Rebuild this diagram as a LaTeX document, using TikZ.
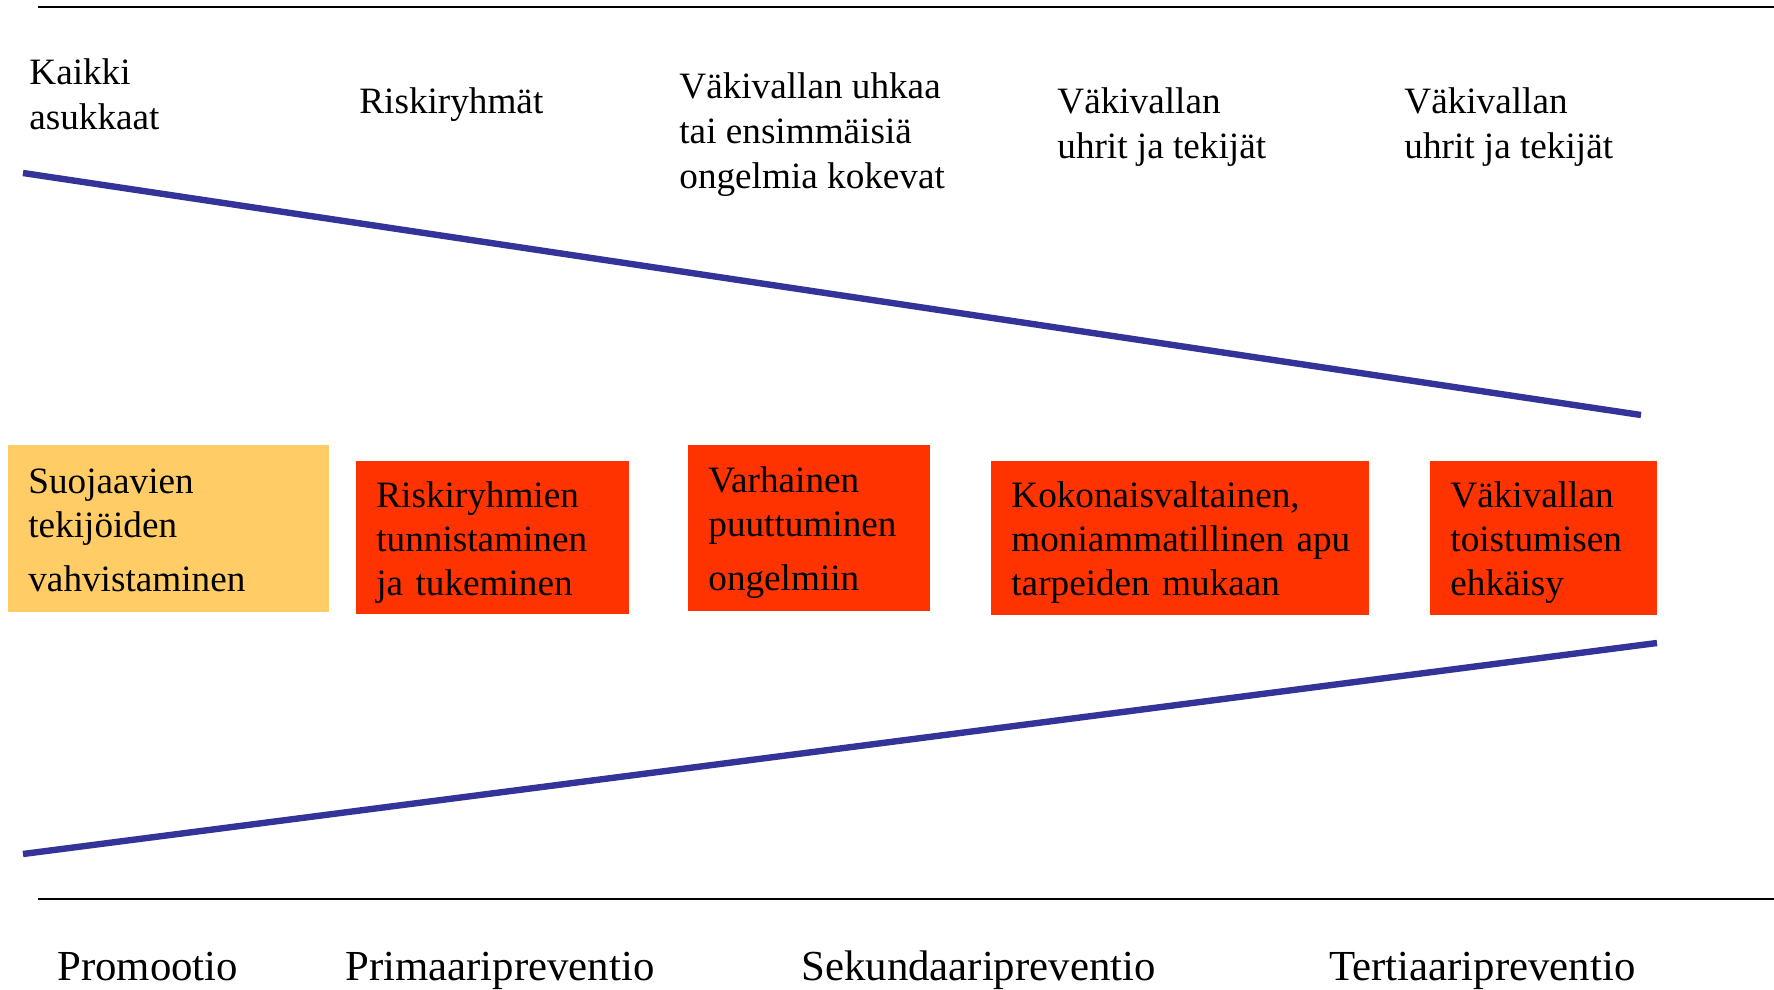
\documentclass[tikz,border=0pt]{standalone}
\usepackage{fontspec}
\setmainfont{Liberation Serif}
\usepackage{tikz}
\definecolor{funnelblue}{RGB}{51,51,153}
\definecolor{boxyellow}{RGB}{255,204,102}
\definecolor{boxred}{RGB}{255,51,0}
\tikzset{
  grouptext/.style={anchor=north west, inner sep=0pt, align=left, font=\fontsize{18.6}{22.5}\selectfont},
  levelname/.style={anchor=base west, inner sep=0pt, font=\fontsize{21.4}{25}\selectfont},
  stagebox/.style={anchor=north west, inner xsep=10pt, inner ysep=0pt, align=left,
    font=\fontsize{18.6}{22}\selectfont,
    execute at begin node={\rule{0pt}{18.5pt}},
    execute at end node={\rule[-5pt]{0pt}{5pt}}},
  funnel/.style={line width=3.2pt, funnelblue},
  ruleline/.style={line width=1.3pt, black}
}

\begin{document}
\begin{tikzpicture}[x=0.5pt, y=-0.5pt]
    \useasboundingbox (0,0) rectangle (1774,990);

    % Horizontal rules
    \draw[ruleline] (38,7) -- (1774,7);
    \draw[ruleline] (38,899) -- (1774,899);

    % Target groups
    \node[grouptext] (allresidents) at (29,58) {Kaikki\\asukkaat};
    \node[grouptext] (riskgroups) at (359,87) {Riskiryhmät};
    \node[grouptext] (threat) at (679,72) {Väkivallan uhkaa\\tai ensimmäisiä\\ongelmia kokevat};
    \node[grouptext] (victimsA) at (1057,87) {Väkivallan\\uhrit ja tekijät};
    \node[grouptext] (victimsB) at (1404,87) {Väkivallan\\uhrit ja tekijät};

    % Funnel
    \draw[funnel] (23,173) -- (1641,415);
    \draw[funnel] (23,854) -- (1657,643);

    % Measures
    \node[stagebox, fill=boxyellow, text width=140.5pt, minimum height=83.5pt] (protect) at (8,445)
        {Suojaavien\\tekijöiden\\[5pt]vahvistaminen};
    \node[stagebox, fill=boxred, text width=116.5pt, minimum height=76.5pt] (identify) at (356,461)
        {Riskiryhmien\\tunnistaminen\\ja tukeminen};
    \node[stagebox, fill=boxred, text width=101pt, minimum height=83pt] (early) at (688,445)
        {Varhainen\\puuttuminen\\[5pt]ongelmiin};
    \node[stagebox, fill=boxred, text width=169pt, minimum height=77pt] (holistic) at (991,461)
        {Kokonaisvaltainen,\\\mbox{moniammatillinen apu}\\tarpeiden mukaan};
    \node[stagebox, fill=boxred, text width=93.5pt, minimum height=77pt] (recurrence) at (1430,461)
        {Väkivallan\\toistumisen\\ehkäisy};

    % Levels of prevention
    \node[levelname] (promotion) at (57,980) {Promootio};
    \node[levelname] (primary) at (345,980) {Primaaripreventio};
    \node[levelname] (secondary) at (801,980) {Sekundaaripreventio};
    \node[levelname] (tertiary) at (1329,980) {Tertiaaripreventio};
\end{tikzpicture}
\end{document}
